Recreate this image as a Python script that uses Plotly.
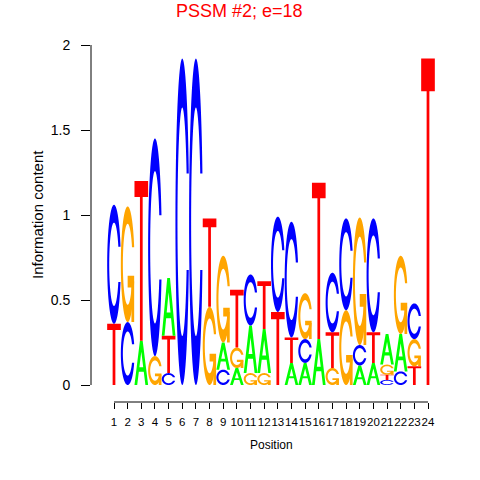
import numpy as np
import plotly.graph_objects as go

positions = list(range(1, 25))
tick_labels = [str(p) for p in positions]
A = [0, 0, 0.26, 0, 0.34, 0, 0, 0, 0.16, 0.10, 0.28, 0.26, 0, 0.13, 0.13, 0.27, 0, 0, 0.115, 0.13, 0.18, 0.22, 0, 0]
C = [0.70, 0.37, 0, 1.28, 0.07, 1.92, 1.92, 0, 0.09, 0, 0.30, 0, 0.56, 0.68, 0.14, 0, 0.35, 0.54, 0.12, 0.67, 0.03, 0.08, 0.21, 0]
G = [0, 0.68, 0, 0.17, 0, 0, 0, 0.46, 0.51, 0.12, 0.07, 0.07, 0, 0, 0.27, 0, 0.10, 0.44, 0.75, 0, 0.06, 0.46, 0.16, 0]
T = [0.36, 0, 0.94, 0, 0.22, 0, 0, 0.52, 0, 0.34, 0, 0.28, 0.43, 0.15, 0, 0.92, 0.21, 0, 0, 0.18, 0.03, 0, 0.11, 1.92]
bases = ["A", "C", "G", "T"]
colors = {"A": "#00FF00", "C": "#0000FF", "G": "#FFA500", "T": "#FF0000"}
title = "PSSM #2; e=18"

# ---- glyph templates in unit box ----
def c_polys(n=60):
    a1 = np.linspace(0.3 + np.pi / 2, np.pi, n)
    a2 = np.linspace(np.pi, 1.5 * np.pi, n)
    xl = np.concatenate([0.5 + 0.5 * np.sin(a1), 0.5 + 0.5 * np.sin(a2)])
    yl = np.concatenate([0.5 + 0.5 * np.cos(a1), 0.5 + 0.5 * np.cos(a2)])
    x = np.concatenate([xl, xl[::-1]])
    y = np.concatenate([yl, 1 - yl[::-1]])
    ymax = (0.5 + 0.5 * np.cos(a1)).max()
    xi1 = 0.5 + 0.35 * np.sin(a1)
    yi1 = 0.5 + 0.35 * np.cos(a1)
    m = yi1 <= ymax
    xi1 = xi1[m]
    yi1 = yi1[m]
    yi1[0] = ymax
    xi2 = 0.5 + 0.35 * np.sin(a2)
    yi2 = 0.5 + 0.35 * np.cos(a2)
    xi = np.concatenate([xi1, xi2])
    yi = np.concatenate([yi1, yi2])
    x1 = np.concatenate([xi, xi[::-1]])
    y1 = np.concatenate([yi, 1 - yi[::-1]])
    X = np.concatenate([x, x1[::-1]])
    Y = np.concatenate([y, y1[::-1]])
    return [[(X, Y)]]

def g_polys():
    ring = c_polys()[0]
    r1 = 0.5 + 0.5 * np.cos(0.3)
    h1 = 0.4
    xa = np.array([r1, 0.5, 0.5, r1 - 0.2, r1 - 0.2, r1, r1])
    ya = np.array([h1, h1, h1 - 0.1, h1 - 0.1, 0, 0, h1])
    return [ring, [(xa, ya)]]

def a_polys():
    xo = np.array([0, 4, 6, 10, 8, 6.8, 3.2, 2, 0]) * 0.1
    yo = np.array([0, 10, 10, 0, 0, 3, 3, 0, 0]) * 0.1
    xi = np.array([3.6, 5, 6.4, 3.6]) * 0.1
    yi = np.array([4, 7.5, 4, 4]) * 0.1
    return [[(xo, yo), (xi, yi)]]

def t_polys():
    x = np.array([0, 10, 10, 6, 6, 4, 4, 0]) * 0.1
    y = np.array([10, 10, 9, 9, 0, 0, 9, 9]) * 0.1
    return [[(x, y)]]

glyphs = {"A": a_polys(), "C": c_polys(), "G": g_polys(), "T": t_polys()}

def path_for(subpaths, pos, y0, h, w=1.0):
    parts = []
    for (u, v) in subpaths:
        xs = pos - w / 2 + u * w
        ys = y0 + v * h
        pts = " L".join(f"{a:.4f},{b:.4f}" for a, b in zip(xs, ys))
        parts.append("M" + pts + " Z")
    return " ".join(parts)

heights = {"A": A, "C": C, "G": G, "T": T}
shapes = []
for i, pos in enumerate(positions):
    col = sorted(bases, key=lambda b: heights[b][i])
    y0 = 0.0
    for b in col:
        h = heights[b][i]
        if h <= 0:
            continue
        for sub in glyphs[b]:
            shapes.append(dict(type="path", xref="x", yref="y",
                               path=path_for(sub, pos, y0, h),
                               fillcolor=colors[b], line=dict(width=0),
                               fillrule="evenodd", layer="above"))
        y0 += h

# axis lines (R style: only span the data range)
shapes.append(dict(type="line", xref="paper", yref="y", x0=0, x1=0, y0=0, y1=2,
                   line=dict(color="black", width=1)))
shapes.append(dict(type="line", xref="x", yref="paper", x0=positions[0], x1=positions[-1],
                   y0=0, y1=0, line=dict(color="black", width=1)))

fig = go.Figure()
fig.add_trace(go.Scatter(x=positions, y=[None] * len(positions), mode="markers",
                         showlegend=False, hoverinfo="skip"))

L, R, TOP, B = 91, 30, 45, 78
pxu = (428 - 114) / 23.0
x_lo = 1 - (114 - L) / pxu
x_hi = x_lo + (480 - L - R) / pxu

fnt = "Liberation Sans, Arial, Helvetica, sans-serif"
fig.update_layout(
    width=480, height=480,
    margin=dict(l=L, r=R, t=TOP, b=B, pad=0),
    paper_bgcolor="white", plot_bgcolor="white",
    font=dict(family=fnt, color="black"),
    shapes=shapes,
    showlegend=False,
    xaxis=dict(range=[x_lo, x_hi], showgrid=False, zeroline=False, showline=False,
               tickmode="array", tickvals=positions, ticktext=tick_labels,
               ticks="outside", ticklen=6, tickcolor="black", tickwidth=1,
               ticklabelstandoff=3,
               tickangle=0, tickfont=dict(size=11.5, family=fnt, color="black")),
    yaxis=dict(range=[-0.1, 2.0], showgrid=False, zeroline=False, showline=False,
               tickmode="array", tickvals=[0, 0.5, 1, 1.5, 2],
               ticktext=["0", "0.5", "1", "1.5", "2"],
               ticks="outside", ticklen=9, tickcolor="black", tickwidth=1,
               ticklabelstandoff=8,
               tickfont=dict(size=14, family=fnt, color="black")),
    annotations=[
        dict(text=title, xref="paper", yref="paper", x=(239 - L) / (480 - L - R),
             y=(402 - 11) / 357.0, xanchor="center", yanchor="middle", showarrow=False,
             font=dict(size=18, color="#FF0000", family=fnt)),
        dict(text="Information content", xref="paper", yref="y", x=(37 - L) / (480 - L - R),
             y=1.0, xanchor="center", yanchor="middle", textangle=-90, showarrow=False,
             font=dict(size=15, color="black", family=fnt)),
        dict(text="Position", xref="x", yref="paper", x=12.5, y=(402 - 445) / 357.0,
             xanchor="center", yanchor="middle", showarrow=False,
             font=dict(size=12, color="black", family=fnt)),
    ],
)
fig.write_html("out.html", config={"displayModeBar": False},
               post_script="document.body.style.margin='0';document.body.style.padding='0';")
